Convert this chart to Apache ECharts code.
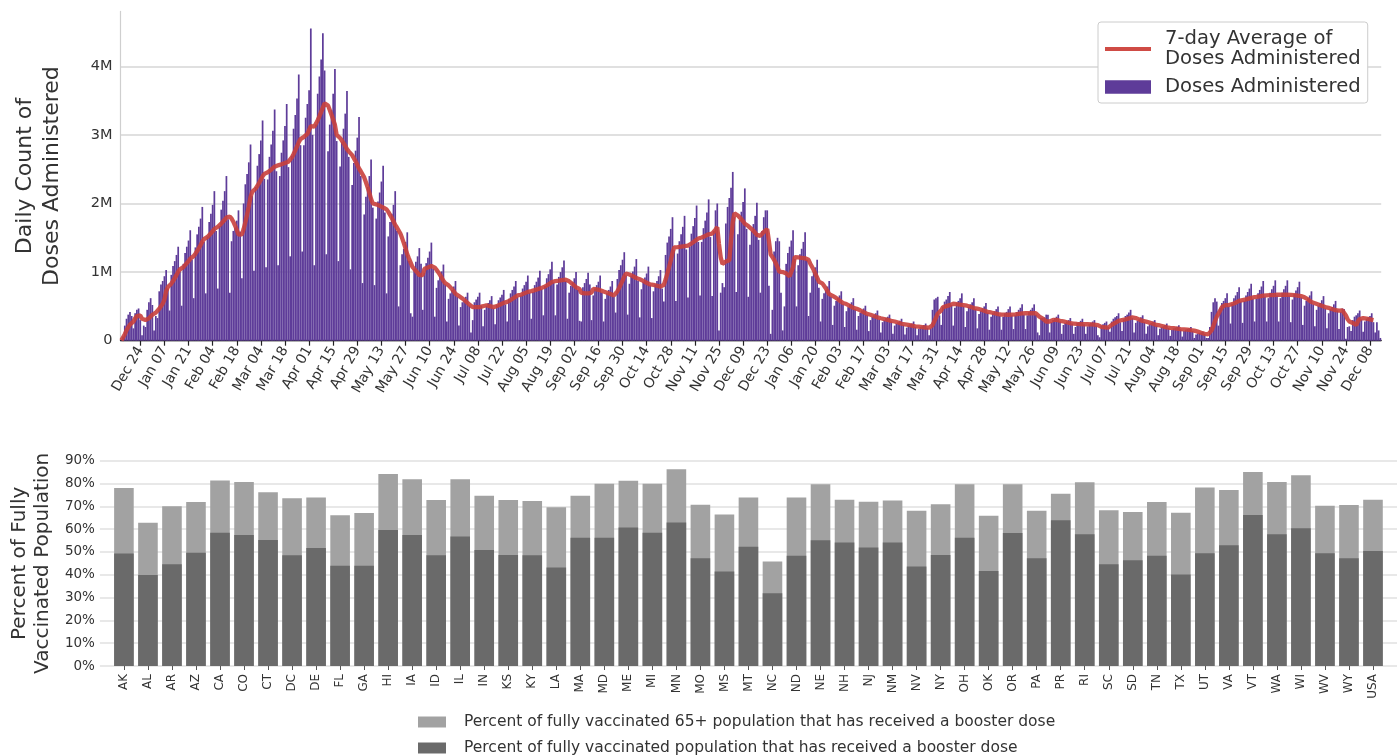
<!DOCTYPE html>
<html>
<head>
<meta charset="utf-8">
<script src="https://cdn.jsdelivr.net/npm/echarts@6/dist/echarts.min.js"></script>
<style>
html,body{margin:0;padding:0;background:#fff;}
#chart{width:1397px;height:756px;}
</style>
</head>
<body>
<div id="chart"></div>
<script>
// ---------- DATA ----------
const startDate = '2020-12-13';          // first day of the daily series
const avgLastDate = '2022-12-10';        // last day with a 7-day average
// Daily doses administered, thousands (one value per day, Sun..Sat per row)
const dailyDosesK = [
  5, 60, 220, 320, 380, 420, 360,
  180, 400, 450, 470, 300, 80, 220,
  200, 450, 560, 620, 520, 150, 360,
  330, 720, 820, 870, 940, 1030, 760,
  440, 960, 1090, 1160, 1250, 1370, 1010,
  510, 1120, 1280, 1370, 1460, 1610, 1180,
  620, 1360, 1550, 1660, 1780, 1950, 1440,
  690, 1520, 1730, 1850, 1980, 2180, 1600,
  760, 1670, 1910, 2040, 2180, 2400, 1770,
  700, 1450, 1600, 1650, 1750, 1900, 1590,
  910, 2000, 2280, 2430, 2600, 2860, 2110,
  1020, 2240, 2550, 2720, 2920, 3210, 2360,
  1070, 2350, 2680, 2860, 3060, 3370, 2470,
  1100, 2400, 2740, 2920, 3130, 3450, 2530,
  1230, 2700, 3090, 3290, 3530, 3880, 2850,
  1300, 2850, 3250, 3450, 3650, 4550, 3000,
  1100, 3150, 3600, 3850, 4100, 4480, 3940,
  1260, 2760, 3150, 3360, 3600, 3960, 2910,
  1160, 2540, 2900, 3090, 3310, 3640, 2680,
  1040, 2270, 2590, 2770, 2960, 3260, 2400,
  840, 1840, 2100, 2240, 2400, 2640, 1940,
  810, 1780, 2030, 2160, 2320, 2550, 1870,
  690, 1520, 1730, 1850, 1980, 2180, 1600,
  500, 1100, 1260, 1340, 1440, 1580, 1160,
  400, 350, 1050, 1150, 1230, 1350, 1120,
  450, 990, 1130, 1210, 1300, 1430, 1050,
  350, 770, 880, 940, 1010, 1110, 820,
  280, 610, 690, 740, 790, 870, 640,
  220, 490, 560, 590, 640, 700, 510,
  120, 300, 560, 600, 640, 700, 510,
  210, 450, 510, 550, 590, 650, 470,
  240, 520, 590, 630, 670, 740, 530,
  280, 610, 690, 740, 790, 870, 640,
  300, 660, 760, 810, 860, 950, 700,
  320, 710, 810, 860, 920, 1020, 750,
  370, 800, 910, 970, 1040, 1150, 850,
  370, 820, 930, 1000, 1070, 1170, 870,
  320, 700, 800, 850, 910, 1000, 740,
  290, 280, 780, 840, 900, 990, 820,
  300, 660, 760, 810, 860, 950, 700,
  280, 610, 690, 740, 790, 870, 640,
  410, 900, 1030, 1100, 1180, 1290, 950,
  380, 830, 950, 1010, 1080, 1190, 870,
  340, 750, 860, 920, 980, 1080, 810,
  330, 720, 820, 870, 940, 1030, 760,
  570, 1250, 1430, 1520, 1630, 1800, 1320,
  580, 1270, 1450, 1550, 1660, 1820, 1330,
  630, 1370, 1560, 1670, 1790, 1970, 1440,
  660, 1440, 1640, 1750, 1870, 2060, 1510,
  650, 1600, 1900, 2000, 150, 700, 840,
  780, 1710, 1950, 2080, 2230, 2460, 1800,
  710, 1550, 1760, 1880, 2020, 2220, 1630,
  640, 1400, 1600, 1700, 1820, 2010, 1470,
  700, 1600, 1800, 1900, 1900, 800, 100,
  450, 1300, 1450, 1500, 1450, 700, 150,
  500, 1120, 1280, 1370, 1460, 1610, 1190,
  500, 1100, 1260, 1340, 1440, 1580, 1180,
  360, 700, 940, 1000, 1070, 1180, 770,
  280, 610, 690, 740, 790, 870, 640,
  230, 510, 580, 620, 660, 720, 530,
  200, 430, 490, 530, 560, 620, 460,
  160, 360, 410, 440, 470, 510, 380,
  140, 300, 350, 370, 400, 440, 310,
  120, 270, 300, 330, 350, 380, 280,
  100, 220, 250, 270, 290, 320, 230,
  90, 190, 220, 240, 250, 280, 200,
  80, 175, 200, 210, 230, 250, 185,
  80, 180, 450, 600, 620, 640, 370,
  230, 500, 570, 600, 650, 710, 520,
  220, 480, 550, 580, 620, 690, 500,
  200, 430, 490, 530, 560, 620, 460,
  180, 390, 440, 470, 500, 550, 410,
  160, 350, 400, 430, 460, 500, 360,
  160, 350, 400, 420, 460, 500, 370,
  170, 370, 420, 450, 480, 530, 380,
  170, 370, 420, 450, 480, 530, 380,
  120, 80, 330, 330, 340, 380, 380,
  120, 270, 300, 330, 350, 380, 280,
  100, 230, 260, 280, 300, 330, 250,
  100, 200, 260, 270, 290, 320, 240,
  100, 210, 240, 260, 280, 300, 220,
  80, 50, 220, 240, 260, 280, 200,
  130, 280, 320, 340, 360, 400, 270,
  140, 310, 360, 380, 410, 450, 330,
  120, 260, 290, 310, 340, 370, 270,
  100, 210, 240, 260, 280, 300, 220,
  80, 175, 200, 210, 230, 250, 185,
  70, 155, 180, 190, 205, 225, 165,
  60, 140, 160, 170, 180, 200, 140,
  40, 90, 105, 115, 120, 130, 100,
  40, 40, 200, 420, 560, 620, 570,
  220, 480, 550, 580, 620, 690, 500,
  250, 540, 620, 660, 710, 780, 570,
  260, 580, 660, 710, 760, 830, 610,
  280, 610, 690, 740, 790, 870, 640,
  280, 620, 700, 750, 800, 880, 660,
  280, 620, 700, 750, 800, 880, 660,
  270, 600, 680, 730, 780, 860, 630,
  230, 510, 580, 620, 660, 720, 530,
  210, 450, 510, 550, 590, 650, 470,
  180, 400, 460, 490, 530, 580, 440,
  170, 420, 470, 460, 30, 200, 210,
  140, 300, 350, 370, 400, 440, 310,
  130, 280, 320, 340, 360, 400, 270,
  120, 270, 150, 40
];
const topYTickLabels = ['0', '1M', '2M', '3M', '4M'];
const firstDateLabelIndex = 11;   // Dec 24
const dateLabelStep = 14;

const states = ['AK','AL','AR','AZ','CA','CO','CT','DC','DE','FL','GA','HI','IA','ID','IL','IN','KS','KY','LA','MA','MD','ME','MI','MN','MO','MS','MT','NC','ND','NE','NH','NJ','NM','NV','NY','OH','OK','OR','PA','PR','RI','SC','SD','TN','TX','UT','VA','VT','WA','WI','WV','WY','USA'];
const booster65Pct = [78.0,62.8,70.0,71.9,81.3,80.7,76.2,73.5,73.9,66.1,67.1,84.2,81.9,72.8,81.9,74.6,72.8,72.3,69.6,74.6,79.9,81.2,79.9,86.2,70.7,66.4,73.9,45.8,73.9,79.7,72.9,72.0,72.5,68.1,70.9,79.7,65.9,79.7,68.1,75.5,80.6,68.3,67.5,71.9,67.2,78.3,77.2,85.1,80.7,83.6,70.3,70.6,72.9];
const boosterAllPct = [49.3,39.9,44.6,49.7,58.4,57.4,55.2,48.6,51.7,43.9,43.9,59.6,57.4,48.6,56.8,50.9,48.7,48.6,43.2,56.2,56.2,60.7,58.4,62.9,47.2,41.4,52.3,31.9,48.3,55.1,54.1,51.9,54.1,43.6,48.7,56.2,41.6,58.3,47.2,63.9,57.8,44.6,46.4,48.3,40.1,49.4,52.9,66.2,57.8,60.4,49.4,47.2,50.4];

const nameAvg = '7-day Average of\nDoses Administered';
const nameDoses = 'Doses Administered';
const name65 = 'Percent of fully vaccinated 65+ population that has received a booster dose';
const nameAll = 'Percent of fully vaccinated population that has received a booster dose';

// ---------- DERIVED ----------
const MONTHS = ['Jan','Feb','Mar','Apr','May','Jun','Jul','Aug','Sep','Oct','Nov','Dec'];
const t0 = Date.parse(startDate + 'T00:00:00Z');
const tEndAvg = Date.parse(avgLastDate + 'T00:00:00Z');
const dates = [];
const doses = [];
const avg7 = [];
for (let i = 0; i < dailyDosesK.length; i++) {
  const t = t0 + i * 86400000;
  const d = new Date(t);
  dates.push(MONTHS[d.getUTCMonth()] + ' ' + String(d.getUTCDate()).padStart(2, '0'));
  doses.push(dailyDosesK[i] * 1000);
  if (t <= tEndAvg) {
    let s = 0, n = 0;
    for (let j = Math.max(0, i - 6); j <= i; j++) { s += dailyDosesK[j] * 1000; n++; }
    avg7.push(s / n);
  } else {
    avg7.push(null);
  }
}
const showDateIdx = (idx) => idx >= firstDateLabelIndex && (idx - firstDateLabelIndex) % dateLabelStep === 0;

const stateCats = [''].concat(states, ['']);
const bar65 = [null].concat(booster65Pct, [null]);
const barAll = [null].concat(boosterAllPct, [null]);

// ---------- CHART ----------
const chart = echarts.init(document.getElementById('chart'), null, {renderer: 'canvas'});
const FONT = 'DejaVu Sans';
const TXT = '#333333';

chart.setOption({
  animation: false,
  textStyle: {fontFamily: FONT},
  grid: [
    {left: 120.5, top: 11.4, width: 1260.7, height: 329.3},
    {left: 95.95, top: 460.7, width: 1325.7, height: 205.3}
  ],
  legend: [
    {
      data: [
        {name: nameAvg, icon: 'path://M0,0H46V4H0Z'},
        {name: nameDoses, icon: 'path://M0,0H41V12H0Z'}
      ],
      orient: 'vertical', left: 1098, top: 22,
      itemWidth: 46, itemHeight: 14, itemGap: 8,
      padding: [7, 7, 6, 7],
      backgroundColor: '#ffffff', borderColor: '#cccccc', borderWidth: 1, borderRadius: 3,
      selectedMode: false,
      textStyle: {fontFamily: FONT, fontSize: 19.6, color: TXT, lineHeight: 20, padding: [0, 0, 0, 9]}
    },
    {
      data: [name65, nameAll],
      orient: 'vertical', left: 418, top: 714, height: 60,
      itemWidth: 28, itemHeight: 11, itemGap: 10, padding: 0,
      icon: 'rect', selectedMode: false,
      textStyle: {fontFamily: FONT, fontSize: 15.5, color: TXT, lineHeight: 13, padding: [0, 0, 0, 13]}
    }
  ],
  xAxis: [
    {
      type: 'category', gridIndex: 0, data: dates, boundaryGap: true,
      axisLine: {show: true, lineStyle: {color: '#222', width: 1.3}},
      axisTick: {show: true, alignWithLabel: true, interval: showDateIdx, length: 5, lineStyle: {color: '#222', width: 1.2}},
      axisLabel: {interval: showDateIdx, rotate: 60, fontSize: 14, color: TXT, margin: 7, fontFamily: FONT},
      splitLine: {show: false}
    },
    {
      type: 'category', gridIndex: 1, data: stateCats, boundaryGap: false,
      axisLine: {show: false},
      axisTick: {show: true, interval: (i) => i > 0 && i < stateCats.length - 1, length: 4, lineStyle: {color: '#555', width: 1}},
      axisLabel: {interval: 0, rotate: 90, fontSize: 12, color: TXT, margin: 8, fontFamily: FONT},
      splitLine: {show: false}
    }
  ],
  yAxis: [
    {
      type: 'value', gridIndex: 0, min: 0, max: 4800000, interval: 1000000,
      name: 'Daily Count of\nDoses Administered', nameLocation: 'middle', nameRotate: 90, nameGap: 55,
      nameTextStyle: {fontSize: 22, color: TXT, lineHeight: 27, fontFamily: FONT},
      axisLine: {show: true, lineStyle: {color: '#cfcfcf', width: 1.2}},
      axisTick: {show: false},
      axisLabel: {fontSize: 14.5, color: TXT, margin: 8, fontFamily: FONT,
        formatter: (v) => { const k = Math.round(v / 1000000); return (Math.abs(v - k * 1000000) < 1 && k < topYTickLabels.length) ? topYTickLabels[k] : ''; },
        showMaxLabel: false},
      splitLine: {show: true, showMaxLine: false, lineStyle: {color: '#d6d6d6', width: 1.6}}
    },
    {
      type: 'value', gridIndex: 1, min: 0, max: 90, interval: 10,
      name: 'Percent of Fully\nVaccinated Population', nameLocation: 'middle', nameRotate: 90, nameGap: 42,
      nameTextStyle: {fontSize: 20, color: TXT, lineHeight: 23, fontFamily: FONT},
      axisLine: {show: false}, axisTick: {show: false},
      axisLabel: {fontSize: 13.5, color: TXT, margin: 5, formatter: '{value}%', fontFamily: FONT},
      splitLine: {show: true, lineStyle: {color: '#e0e0e0', width: 1.6}}
    }
  ],
  series: [
    {
      name: nameDoses, type: 'bar', xAxisIndex: 0, yAxisIndex: 0, data: doses,
      barCategoryGap: '0%', itemStyle: {color: '#5e3c99'}, silent: true, z: 2
    },
    {
      name: nameAvg, type: 'line', xAxisIndex: 0, yAxisIndex: 0, data: avg7,
      showSymbol: false, symbol: 'none', connectNulls: false,
      lineStyle: {color: '#c9403c', width: 4.3, opacity: 0.9},
      itemStyle: {color: '#cf4b45'}, silent: true, z: 3
    },
    {
      name: name65, type: 'bar', xAxisIndex: 1, yAxisIndex: 1, data: bar65,
      barWidth: 19.6, barGap: '-100%', itemStyle: {color: '#a2a2a2'}, silent: true
    },
    {
      name: nameAll, type: 'bar', xAxisIndex: 1, yAxisIndex: 1, data: barAll,
      barWidth: 19.6, barGap: '-100%', itemStyle: {color: '#6a6a6a'}, silent: true
    }
  ]
});
</script>
</body>
</html>
